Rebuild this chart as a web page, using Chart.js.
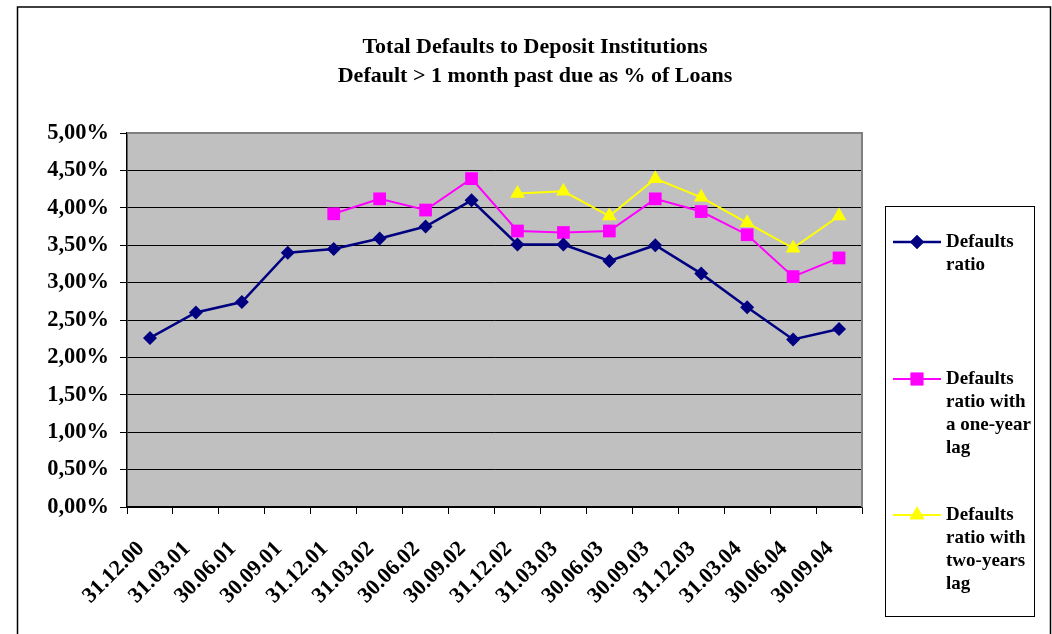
<!DOCTYPE html>
<html>
<head>
<meta charset="utf-8">
<script src="https://cdn.jsdelivr.net/npm/chart.js@4/dist/chart.umd.min.js"></script>
<style>
html,body{margin:0;padding:0;background:#fff;}
#wrap{width:1052px;height:634px;}
</style>
</head>
<body>
<div id="wrap"><canvas id="c" width="1052" height="634"></canvas></div>
<script>
const titleLines = ['Total Defaults to Deposit Institutions', 'Default > 1 month past due as % of Loans'];
const categories = ['31.12.00','31.03.01','30.06.01','30.09.01','31.12.01','31.03.02','30.06.02','30.09.02','31.12.02','31.03.03','30.06.03','30.09.03','31.12.03','31.03.04','30.06.04','30.09.04'];
const defaultsRatio = [2.26,2.60,2.74,3.40,3.45,3.59,3.75,4.10,3.51,3.51,3.29,3.50,3.12,2.67,2.24,2.38];
const oneYearLag = [null,null,null,null,3.92,4.12,3.97,4.39,3.69,3.67,3.69,4.12,3.95,3.64,3.08,3.33];
const twoYearLag = [null,null,null,null,null,null,null,null,4.19,4.22,3.89,4.39,4.14,3.80,3.46,3.89];
const seriesNames = ['Defaults ratio', 'Defaults ratio with a one-year lag', 'Defaults ratio with two-years lag'];
const legendLines = [['Defaults','ratio'], ['Defaults','ratio with','a one-year','lag'], ['Defaults','ratio with','two-years','lag']];
const yMin = 0, yMax = 5, yStep = 0.5;

const FONT = "'Liberation Serif', 'Times New Roman', serif";

const decor = {
  id: 'decor',
  beforeDraw(chart) {
    const ctx = chart.ctx, a = chart.chartArea;
    ctx.save();
    ctx.fillStyle = '#ffffff';
    ctx.fillRect(0, 0, chart.width, chart.height);
    ctx.fillStyle = '#c0c0c0';
    ctx.fillRect(a.left, a.top, a.right - a.left, a.bottom - a.top);
    ctx.restore();
  },
  afterDraw(chart) {
    const ctx = chart.ctx, a = chart.chartArea;
    ctx.save();
    // plot border top/right
    ctx.strokeStyle = '#808080';
    ctx.lineWidth = 2;
    ctx.beginPath();
    ctx.moveTo(a.left, a.top);
    ctx.lineTo(a.right, a.top);
    ctx.lineTo(a.right, a.bottom);
    ctx.stroke();
    // outer border
    ctx.strokeStyle = '#000';
    ctx.lineWidth = 1.5;
    ctx.beginPath();
    ctx.moveTo(17.5, 640);
    ctx.lineTo(17.5, 7);
    ctx.lineTo(1050.5, 7);
    ctx.lineTo(1050.5, 640);
    ctx.stroke();
    // title
    ctx.fillStyle = '#000';
    ctx.font = "bold 22px " + FONT;
    ctx.textAlign = 'center';
    ctx.textBaseline = 'middle';
    ctx.fillText(titleLines[0], 535, 47);
    ctx.fillText(titleLines[1], 535, 76);
    // legend box
    ctx.strokeStyle = '#000';
    ctx.lineWidth = 1;
    ctx.strokeRect(885.5, 206.5, 149, 410);
    const entryY = [242, 379, 515];
    ctx.font = "bold 19px " + FONT;
    ctx.textAlign = 'left';
    chart.data.datasets.forEach((ds, i) => {
      const y = entryY[i];
      ctx.strokeStyle = ds.borderColor;
      ctx.lineWidth = ds.borderWidth;
      ctx.beginPath();
      ctx.moveTo(893, y);
      ctx.lineTo(941, y);
      ctx.stroke();
      ctx.fillStyle = ds.pointBackgroundColor;
      Chart.helpers.drawPoint(ctx, {pointStyle: ds.pointStyle, radius: ds.pointRadius, borderWidth: 0}, 917, y);
      ctx.fill();
      ctx.fillStyle = '#000';
      legendLines[i].forEach((t, k) => ctx.fillText(t, 946, y + k * 23));
    });
    ctx.restore();
  }
};

new Chart(document.getElementById('c'), {
  type: 'line',
  data: {
    labels: categories,
    datasets: [
      {label: seriesNames[0], data: defaultsRatio, borderColor: '#000080', backgroundColor: '#000080', pointBackgroundColor: '#000080', pointBorderColor: '#000080', borderWidth: 2.5, pointStyle: 'rectRot', pointRadius: 7, pointBorderWidth: 0, tension: 0},
      {label: seriesNames[1], data: oneYearLag, borderColor: '#ff00ff', backgroundColor: '#ff00ff', pointBackgroundColor: '#ff00ff', pointBorderColor: '#ff00ff', borderWidth: 2, pointStyle: 'rect', pointRadius: 9, pointBorderWidth: 0, tension: 0},
      {label: seriesNames[2], data: twoYearLag, borderColor: '#ffff00', backgroundColor: '#ffff00', pointBackgroundColor: '#ffff00', pointBorderColor: '#ffff00', borderWidth: 2, pointStyle: 'triangle', pointRadius: 8.5, pointBorderWidth: 0, tension: 0}
    ]
  },
  options: {
    responsive: false,
    animation: false,
    layout: {padding: {left: 0, right: 190, top: 133, bottom: 0}},
    plugins: {legend: {display: false}, title: {display: false}, tooltip: {enabled: false}},
    scales: {
      x: {
        offset: true,
        grid: {display: true, drawOnChartArea: false, drawTicks: true, tickLength: 7, color: '#000', offset: true},
        border: {display: true, color: '#000', width: 1.5},
        ticks: {autoSkip: false, minRotation: 45, maxRotation: 45, color: '#000', padding: 22, labelOffset: -9, font: {family: FONT, size: 22, weight: 'bold'}},
        afterFit(axis) { axis.height = 127; }
      },
      y: {
        min: yMin, max: yMax,
        grid: {color: '#000', lineWidth: 1, drawTicks: true, tickLength: 7},
        border: {display: true, color: '#000', width: 1.5},
        ticks: {stepSize: yStep, color: '#000', padding: 11, font: {family: FONT, size: 22.5, weight: 'bold'},
          callback: v => v.toFixed(2).replace('.', ',') + '%'},
        afterFit(axis) { axis.width = 127; }
      }
    }
  },
  plugins: [decor]
});
</script>
</body>
</html>
